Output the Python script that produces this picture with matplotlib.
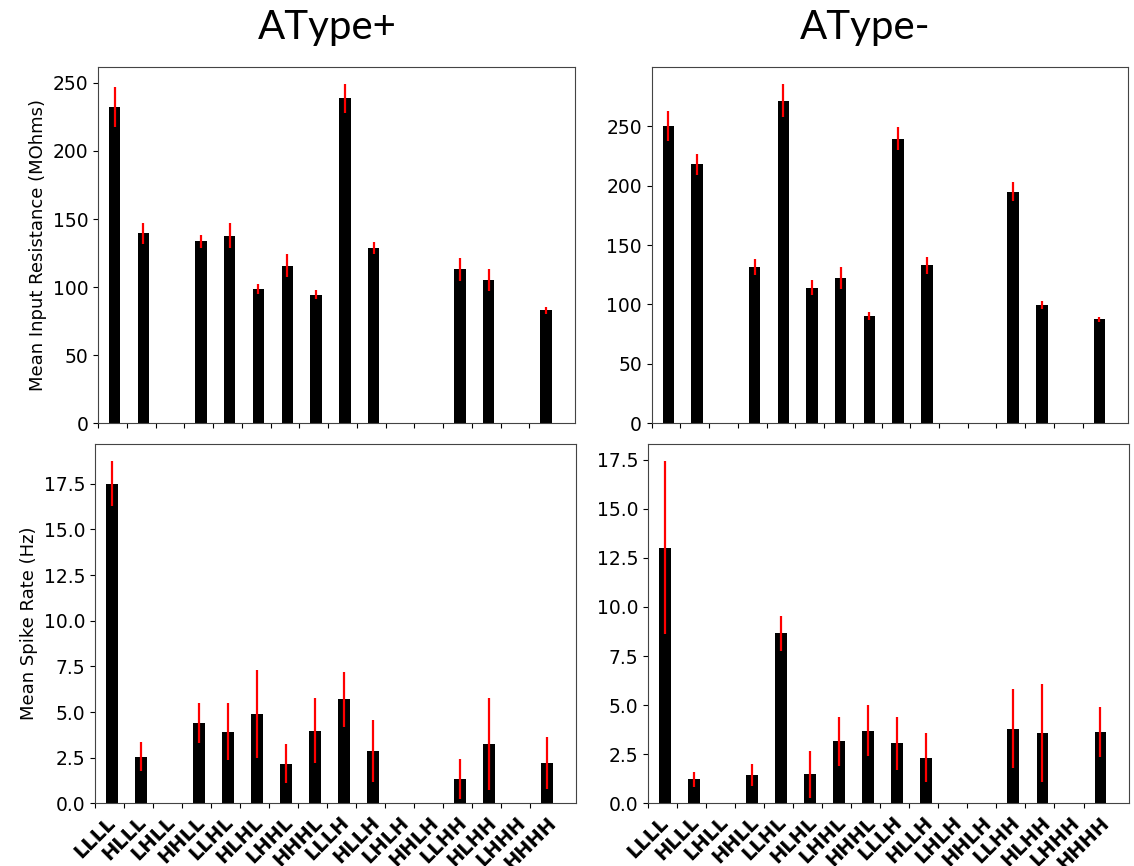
import numpy as np
import matplotlib
matplotlib.use("Agg")
import matplotlib.pyplot as plt

labels = ["LLLL", "HLLL", "LHLL", "HHLL", "LLHL", "HLHL", "LHHL", "HHHL",
          "LLLH", "HLLH", "LHLH", "HHLH", "LLHH", "HLHH", "LHHH", "HHHH"]

# mean input resistance (MOhms) and error
res_plus = [232.3, 139.4, 0, 133.5, 137.9, 98.6, 115.8, 94.4,
            238.7, 128.6, 0, 0, 113.1, 105.2, 0, 83.1]
res_plus_err = [14.7, 7.8, 0, 5.0, 9.5, 3.5, 8.5, 3.4,
                10.7, 4.5, 0, 0, 8.3, 8.2, 0, 2.5]
res_minus = [250.0, 217.8, 0, 131.2, 271.6, 114.1, 122.2, 90.5,
             239.6, 132.8, 0, 0, 194.8, 99.5, 0, 87.4]
res_minus_err = [12.6, 9.0, 0, 6.8, 14.0, 6.2, 9.2, 3.4,
                 9.8, 7.1, 0, 0, 8.0, 3.4, 0, 2.4]

# mean spike rate (Hz) and error
rate_plus = [17.5, 2.54, 0, 4.42, 3.92, 4.89, 2.17, 3.98,
             5.69, 2.86, 0, 0, 1.31, 3.25, 0, 2.19]
rate_plus_err = [1.24, 0.79, 0, 1.1, 1.56, 2.42, 1.06, 1.76,
                 1.52, 1.72, 0, 0, 1.1, 2.53, 0, 1.42]
rate_minus = [13.02, 1.22, 0, 1.43, 8.65, 1.48, 3.16, 3.7,
              3.06, 2.31, 0, 0, 3.81, 3.57, 0, 3.65]
rate_minus_err = [4.41, 0.38, 0, 0.57, 0.9, 1.2, 1.24, 1.3,
                  1.36, 1.25, 0, 0, 2.0, 2.5, 0, 1.28]

x = np.arange(len(labels))

fig = plt.figure(figsize=(11.34, 8.66), dpi=100)

panels = [
    ([0.0864, 0.5112, 0.4206, 0.4118], res_plus, res_plus_err, "Mean Input Resistance (MOhms)", False),
    ([0.5747, 0.5112, 0.4200, 0.4115], res_minus, res_minus_err, None, False),
    ([0.0838, 0.0724, 0.4242, 0.4149], rate_plus, rate_plus_err, "Mean Spike Rate (Hz)", True),
    ([0.5717, 0.0724, 0.4242, 0.4149], rate_minus, rate_minus_err, None, True),
]

for rect, vals, errs, ylab, show_labels in panels:
    ax = fig.add_axes(rect)
    ax.bar(x + 0.58, vals, width=0.4, color="black",
           yerr=errs, error_kw=dict(ecolor="red", elinewidth=1.6, capsize=0))
    ax.set_xlim(0, 16.58)
    ax.set_xticks(x)
    if show_labels:
        ax.set_xticklabels(labels, rotation=45, fontweight="bold", fontsize=14)
    else:
        ax.set_xticklabels([])
    ax.tick_params(axis="y", labelsize=13.5)
    if ylab:
        ax.set_ylabel(ylab, fontsize=13)
    for sp in ax.spines.values():
        sp.set_color("#444444")

fig.text(0.289, 0.968, "AType+", fontsize=29, family="Lato", ha="center", va="center")
fig.text(0.763, 0.968, "AType-", fontsize=29, family="Lato", ha="center", va="center")

fig.savefig("out.png", dpi=100)
